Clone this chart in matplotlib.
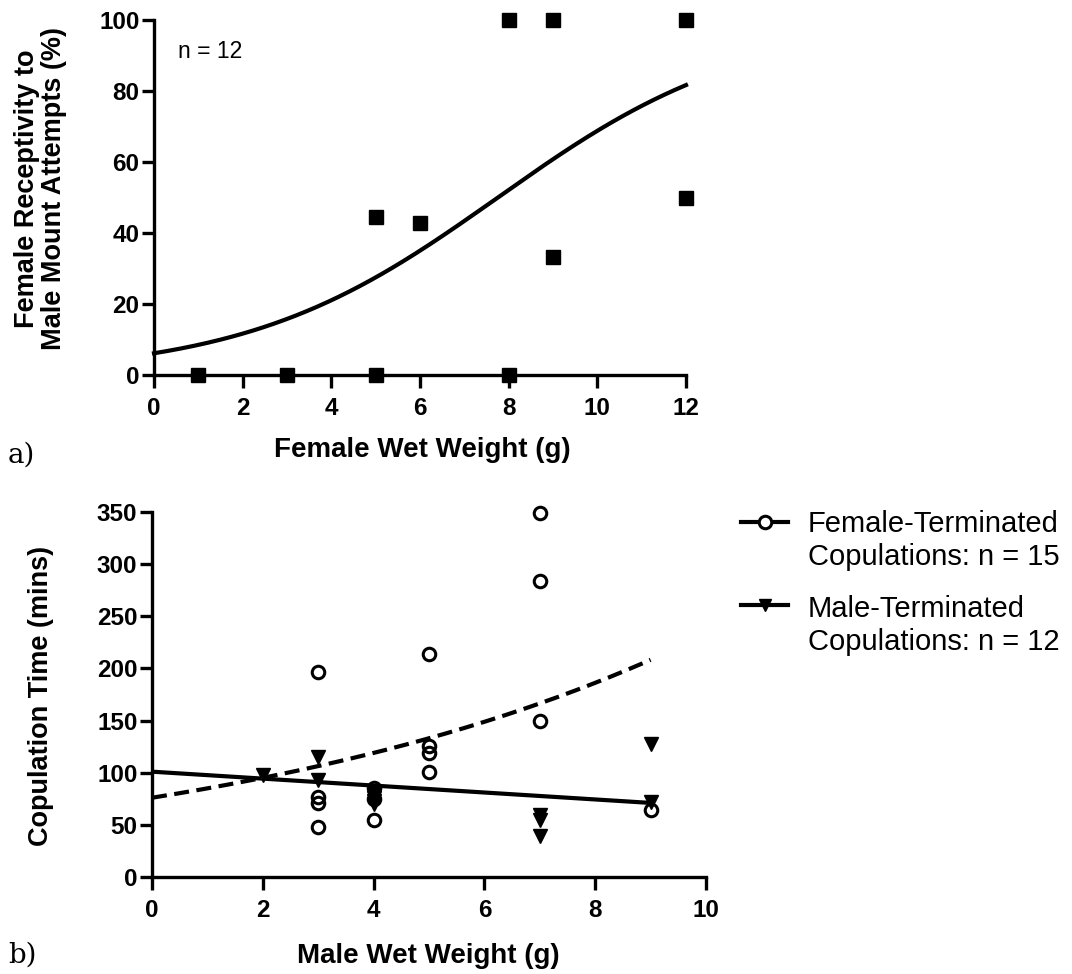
import numpy as np
import matplotlib
matplotlib.use("Agg")
import matplotlib.pyplot as plt
from matplotlib.lines import Line2D

plt.rcParams['font.family'] = ['Liberation Sans', 'DejaVu Sans']

# panel a) female wet weight vs receptivity to mount attempts
female_weight = [1, 3, 5, 5, 6, 8, 8, 9, 9, 12, 12]
receptivity = [0, 0, 0, 44.4, 42.9, 100, 0, 100, 33.3, 100, 50]
# logistic fit drawn in panel a
logit_intercept = -2.73
logit_slope = 0.352

# panel b) male wet weight vs copulation time
female_term_weight = [3, 3, 3, 3, 4, 4, 4, 5, 5, 5, 5, 7, 7, 7, 9]
female_term_time = [197, 77, 71, 48, 85, 75, 55, 214, 126, 119, 101, 349, 284, 150, 64]
male_term_weight = [2, 3, 3, 4, 4, 4, 4, 7, 7, 7, 9, 9]
male_term_time = [98, 115, 93, 80, 76, 73, 70, 59, 55, 39, 128, 72]
# fits drawn in panel b
female_fit_start = 76      # exponential growth fit
female_fit_rate = 0.112
male_fit_intercept = 101   # linear fit
male_fit_slope = -3.33
fit_end = 9

legend_labels = [["Female-Terminated", "Copulations: n = 15"],
                 ["Male-Terminated", "Copulations: n = 12"]]

W, H = 1072, 974
LW = 2.4
TICK_FS = 17.5
LABEL_FS = 20


def fx(px):
    return px / W


def fy(py):
    return 1 - py / H


def style_axes(ax):
    for side in ["top", "right"]:
        ax.spines[side].set_visible(False)
    for side in ["left", "bottom"]:
        ax.spines[side].set_linewidth(LW)
    ax.tick_params(direction="out", length=9, width=LW, labelsize=TICK_FS)
    ax.tick_params(axis="x", pad=6.5)
    ax.tick_params(axis="y", pad=1.5)
    for lab in ax.get_xticklabels() + ax.get_yticklabels():
        lab.set_fontweight("bold")


fig = plt.figure(figsize=(W / 100, H / 100), dpi=100)

# ---- panel a ----
ax1 = fig.add_axes([fx(154), fy(375), fx(686 - 154), (375 - 20) / H])
xs = np.linspace(0, 12, 200)
curve = 100 / (1 + np.exp(-(logit_intercept + logit_slope * xs)))
ax1.plot(xs, curve, color="black", lw=3, clip_on=False)
ax1.plot(female_weight, receptivity, "s", color="black", ms=9.5, clip_on=False, zorder=5)
ax1.set_xlim(0, 12)
ax1.set_ylim(0, 100)
ax1.set_xticks(range(0, 13, 2))
ax1.set_yticks(range(0, 101, 20))
style_axes(ax1)

fig.text(fx(178), fy(58), "n = 12", fontsize=16.5, va="baseline")
fig.text(fx(41), fy(189), "Female Receptivity to\nMale Mount Attempts (%)", rotation=90,
         ha="center", va="center", fontsize=19.5, fontweight="bold", linespacing=1.05,
         multialignment="center")
fig.text(fx(422), fy(457), "Female Wet Weight (g)", ha="center", va="baseline",
         fontsize=LABEL_FS, fontweight="bold")
fig.text(fx(8), fy(463), "a)", fontsize=20, family="DejaVu Serif", va="baseline")

# ---- panel b ----
ax2 = fig.add_axes([fx(152), fy(877), fx(706 - 152), (877 - 512) / H])
xb = np.linspace(0, fit_end, 200)
ax2.plot(xb, female_fit_start * np.exp(female_fit_rate * xb), color="black", lw=3,
         dashes=(3.6, 1.8))
ax2.plot(xb, male_fit_intercept + male_fit_slope * xb, color="black", lw=3)
ax2.plot(female_term_weight, female_term_time, "o", mfc="none", mec="black", mew=2.2,
         ms=9, clip_on=False, zorder=5)
ax2.plot(male_term_weight, male_term_time, "v", color="black", ms=9.5, clip_on=False, zorder=6)
ax2.set_xlim(0, 10)
ax2.set_ylim(0, 350)
ax2.set_xticks(range(0, 11, 2))
ax2.set_yticks(range(0, 351, 50))
style_axes(ax2)

fig.text(fx(41), fy(696), "Copulation Time (mins)", rotation=90, ha="center", va="center",
         fontsize=19.5, fontweight="bold")
fig.text(fx(428), fy(963), "Male Wet Weight (g)", ha="center", va="baseline",
         fontsize=LABEL_FS, fontweight="bold")
fig.text(fx(8), fy(963), "b)", fontsize=20, family="DejaVu Serif", va="baseline")

# legend for panel b, drawn by hand so the key lines up with the first text line
handle_y = [522, 605]
baselines = [[532, 565], [617, 650]]
markers = [dict(marker="o", mfc="white", mec="black", mew=2.2, ms=9),
           dict(marker="v", mfc="black", mec="black", ms=9)]
for hy, bl, labels, mk in zip(handle_y, baselines, legend_labels, markers):
    key = Line2D([fx(741), fx(764.5), fx(788)], [fy(hy)] * 3, transform=fig.transFigure,
                 color="black", lw=3, markevery=[1], **mk)
    fig.add_artist(key)
    for b, lab in zip(bl, labels):
        fig.text(fx(808), fy(b), lab, fontsize=21, va="baseline")

fig.savefig("out.png", dpi=100)
